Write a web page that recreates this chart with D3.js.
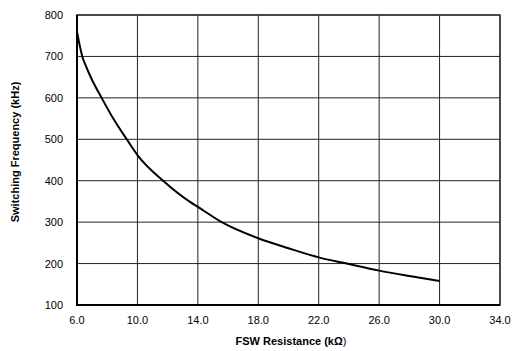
<!DOCTYPE html>
<html><head><meta charset="utf-8">
<script src="https://cdn.jsdelivr.net/npm/d3@7"></script>
<style>body{margin:0;background:#fff}svg{display:block}</style>
</head><body><svg id="c" width="512" height="351"></svg>
<script>
const resistance = [6.0, 6.2, 6.35, 6.6, 7.0, 7.63, 8.4, 9.29, 10.0, 11.7, 13.48, 14.0, 15.58, 18.0, 20.0, 22.0, 23.86, 26.0, 28.0, 30.0];
const frequency  = [760, 723, 700, 676, 643, 600, 550, 500, 462, 400, 349, 337, 300, 261, 237, 215, 200, 183, 170, 158];
const xTicks = [6, 10, 14, 18, 22, 26, 30, 34];
const yTicks = [100, 200, 300, 400, 500, 600, 700, 800];

const svg = d3.select("#c");
const m = {l:77, r:500, t:15, b:305};
const x = d3.scaleLinear().domain([6,34]).range([m.l, m.r]);
const y = d3.scaleLinear().domain([100,800]).range([m.b, m.t]);
const font = "Liberation Sans, Arial, sans-serif";

// grid
svg.append("g").selectAll("line").data(xTicks).join("line")
  .attr("x1", d=>x(d)).attr("x2", d=>x(d)).attr("y1", m.t).attr("y2", m.b)
  .attr("stroke", "#222").attr("stroke-width", 1);
svg.append("g").selectAll("line").data(yTicks).join("line")
  .attr("x1", m.l).attr("x2", m.r).attr("y1", d=>y(d)).attr("y2", d=>y(d))
  .attr("stroke", "#222").attr("stroke-width", 1);

// frame
svg.append("rect").attr("x", m.l).attr("y", m.t).attr("width", m.r-m.l).attr("height", m.b-m.t)
  .attr("fill", "none").attr("stroke", "#333").attr("stroke-width", 1.5);
svg.append("line").attr("x1", m.l).attr("x2", m.l).attr("y1", m.t).attr("y2", m.b+1)
  .attr("stroke", "#000").attr("stroke-width", 2);
svg.append("line").attr("x1", m.l-1).attr("x2", m.r).attr("y1", m.b).attr("y2", m.b)
  .attr("stroke", "#000").attr("stroke-width", 2);

// curve
const data = resistance.map((r,i)=>[r, frequency[i]]);
svg.append("path").datum(data)
  .attr("d", d3.line().x(d=>x(d[0])).y(d=>y(d[1])).curve(d3.curveMonotoneX))
  .attr("fill", "none").attr("stroke", "#000").attr("stroke-width", 2);

// tick labels
svg.append("g").selectAll("text").data(yTicks).join("text")
  .attr("x", 63).attr("y", d=>y(d)+4).attr("text-anchor", "end")
  .attr("font-family", font).attr("font-size", 11).text(d=>d);
svg.append("g").selectAll("text").data(xTicks).join("text")
  .attr("x", d=>x(d)).attr("y", 324).attr("text-anchor", "middle")
  .attr("font-family", font).attr("font-size", 11).text(d=>d.toFixed(1));

// axis titles
const xt = svg.append("text").attr("x", 291).attr("y", 345).attr("text-anchor", "middle")
  .attr("font-family", font).attr("font-size", 11).attr("font-weight", "bold");
xt.append("tspan").text("FSW Resistance (kΩ");
xt.append("tspan").attr("font-weight", "normal").text(")");
svg.append("text").attr("transform", "translate(19,152) rotate(-90)").attr("text-anchor", "middle")
  .attr("font-family", font).attr("font-size", 11).attr("font-weight", "bold")
  .text("Switching Frequency (kHz)");
</script></body></html>
